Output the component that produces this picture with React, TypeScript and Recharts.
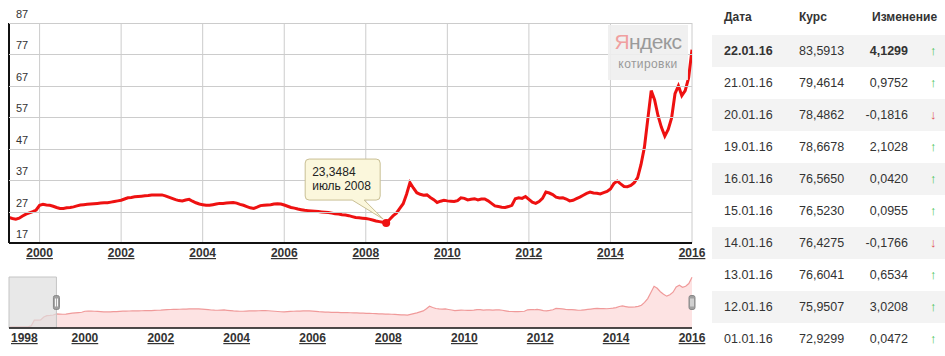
import React from "react";
import {
  LineChart,
  Line,
  AreaChart,
  Area,
  XAxis,
  YAxis,
  CartesianGrid,
  ReferenceDot,
  ReferenceArea,
} from "recharts";

// monthly USD/RUB
const rates1998 = [5.98, 6.05, 6.1, 6.12, 6.15, 6.2, 6.23, 7.5, 15.9, 15.9, 16.4, 20.6];
const rates1999 = [22.6, 22.9, 23.5, 25.1, 24.8, 24.6, 24.9, 25.6, 26.2, 26.6, 27.0, 27.5];
const rates2000 = [29.0, 29.3, 29.1, 29.0, 28.7, 28.3, 28.0, 28.0, 28.2, 28.3, 28.5, 28.8];
const rates2001 = [29.1, 29.2, 29.3, 29.4, 29.5, 29.6, 29.7, 29.8, 29.8, 30.0, 30.2, 30.4];
const rates2002 = [30.6, 31.0, 31.4, 31.5, 31.7, 31.8, 31.9, 32.0, 32.1, 32.3, 32.3, 32.3];
const rates2003 = [32.3, 32.0, 31.6, 31.2, 30.8, 30.5, 30.4, 30.7, 30.9, 30.3, 29.8, 29.4];
const rates2004 = [29.2, 29.0, 29.0, 29.2, 29.4, 29.6, 29.6, 29.7, 29.8, 29.9, 29.7, 29.3];
const rates2005 = [29.0, 28.6, 28.2, 28.0, 28.4, 28.9, 29.0, 29.1, 29.2, 29.4, 29.5, 29.4];
const rates2006 = [29.1, 28.7, 28.3, 28.1, 27.8, 27.6, 27.4, 27.3, 27.2, 27.1, 27.0, 26.9];
const rates2007 = [26.8, 26.7, 26.5, 26.3, 26.2, 26.0, 25.9, 25.7, 25.4, 25.1, 25.0, 24.9];
const rates2008 = [24.8, 24.6, 24.3, 24.0, 23.8, 23.6, 23.3484, 24.5, 25.6, 26.5, 28.0, 29.5];
const rates2009 = [32.5, 36.2, 34.5, 33.0, 32.5, 32.2, 32.3, 31.5, 30.8, 29.9, 30.3, 30.6];
const rates2010 = [30.4, 30.3, 30.2, 30.5, 31.4, 31.2, 30.7, 30.9, 31.1, 30.7, 31.0, 31.0];
const rates2011 = [30.4, 29.6, 28.8, 28.6, 28.4, 28.3, 28.6, 29.0, 31.1, 31.4, 31.2, 31.8];
const rates2012 = [30.9, 30.0, 29.6, 30.2, 31.2, 33.2, 32.9, 32.4, 31.6, 31.3, 31.4, 31.0];
const rates2013 = [30.4, 30.6, 31.1, 31.6, 32.2, 32.8, 33.2, 32.9, 32.8, 32.6, 33.0, 33.4];
const rates2014 = [34.2, 35.9, 36.7, 35.8, 35.0, 34.9, 35.3, 36.2, 37.8, 42.0, 47.5, 56.5];
const rates2015 = [65.5, 62.5, 57.5, 53.8, 51.0, 53.1, 56.8, 64.5, 67.0, 63.9, 65.5, 69.5];
const rates2016 = [78.5];

const years = [1998, 1999, 2000, 2001, 2002, 2003, 2004, 2005, 2006, 2007, 2008, 2009, 2010, 2011, 2012, 2013, 2014, 2015, 2016];
const yearRates = [rates1998, rates1999, rates2000, rates2001, rates2002, rates2003, rates2004, rates2005, rates2006, rates2007, rates2008, rates2009, rates2010, rates2011, rates2012, rates2013, rates2014, rates2015, rates2016];

const mainTicksX = [2000, 2002, 2004, 2006, 2008, 2010, 2012, 2014, 2016];
const navTicksX = [1998, 2000, 2002, 2004, 2006, 2008, 2010, 2012, 2014, 2016];
const ticksY = [17, 27, 37, 47, 57, 67, 77, 87];

const lowPoint = { t: 2008.5, v: 23.3484, label: "июль 2008" };

const tableDates = ["22.01.16", "21.01.16", "20.01.16", "19.01.16", "16.01.16", "15.01.16", "14.01.16", "13.01.16", "12.01.16", "01.01.16"];
const tableRates = ["83,5913", "79,4614", "78,4862", "78,6678", "76,5650", "76,5230", "76,4275", "76,6041", "75,9507", "72,9299"];
const tableChanges = ["4,1299", "0,9752", "-0,1816", "2,1028", "0,0420", "0,0955", "-0,1766", "0,6534", "3,0208", "0,0472"];

const allPoints = years.flatMap((y, i) => yearRates[i].map((v, m) => ({ t: y + m / 12, v })));
const MAIN_START = 1999.25;
const MAIN_END = 2016;
const mainPoints = allPoints.filter((p) => p.t >= MAIN_START - 1e-6);

const FONT = "'Liberation Sans', Arial, sans-serif";
const RED = "#ee1111";
const NAV_MIN = 4.5;
const NAV_MAX = 79;

// main chart layout
const CHART_W = 710;
const CHART_H = 265;
const MARGIN = { top: 23, left: 9, right: 18, bottom: 0 };
const X_AXIS_H = 22;
const PLOT_W = CHART_W - MARGIN.left - MARGIN.right;
const PLOT_H = CHART_H - MARGIN.top - MARGIN.bottom - X_AXIS_H;

const YearTick = (props: any) => {
  const { x, y, payload, index } = props;
  const first = index === 0 && payload.value === 1998;
  return (
    <text
      x={first ? x + 2 : x}
      y={y + 14}
      textAnchor={first ? "start" : "middle"}
      fontSize={12}
      fontWeight="bold"
      fill="#333"
      textDecoration="underline"
      fontFamily={FONT}
    >
      {payload.value}
    </text>
  );
};

// value label + horizontal grid line for one y tick
const valueTick = (value: number, first: boolean) => (props: any) => {
  const { cx, cy } = props;
  if (cx == null || cy == null) return null;
  const gy = Math.round(cy) + 0.5;
  return (
    <g>
      {!first && <line x1={cx} y1={gy} x2={cx + PLOT_W} y2={gy} stroke="#cccccc" strokeWidth={1} />}
      {first && <line x1={cx} y1={cy} x2={cx} y2={cy - PLOT_H} stroke="#111" strokeWidth={2} />}
      <text x={cx + 7} y={cy - 5} fontSize={11} fill="#333" fontFamily={FONT}>
        {value}
      </text>
    </g>
  );
};

const Callout = (props: any) => {
  const { cx, cy } = props;
  if (cx == null || cy == null) return null;
  const L = cx - 81;
  const T = cy - 64;
  const R = cx - 6;
  const B = cy - 23;
  const r = 4;
  const d = `M${L + r},${T} H${R - r} Q${R},${T} ${R},${T + r} V${B - r} Q${R},${B} ${R - r},${B} H${cx - 22} L${cx - 3},${cy - 4} L${cx - 34},${B} H${L + r} Q${L},${B} ${L},${B - r} V${T + r} Q${L},${T} ${L + r},${T} Z`;
  return (
    <g>
      <path d={d} fill="#fbf7dc" stroke="#c9bf94" strokeWidth={1} />
      <text x={L + 7} y={T + 17} fontSize={12} fill="#222" fontFamily={FONT}>
        {lowPoint.v.toFixed(4).replace(".", ",")}
      </text>
      <text x={L + 7} y={T + 31} fontSize={12} fill="#222" fontFamily={FONT}>
        {lowPoint.label}
      </text>
      <circle cx={cx} cy={cy} r={4} fill={RED} />
    </g>
  );
};

const Handle = (props: any) => {
  const { cx, cy } = props;
  if (cx == null || cy == null) return null;
  return (
    <g>
      <rect x={cx - 3} y={cy - 7} width={6} height={14} rx={2} fill="#a0a0a0" stroke="#888" />
      <line x1={cx - 1} y1={cy - 4} x2={cx - 1} y2={cy + 4} stroke="#fff" />
      <line x1={cx + 1} y1={cy - 4} x2={cx + 1} y2={cy + 4} stroke="#fff" />
    </g>
  );
};

const RateTable = () => (
  <div style={{ position: "absolute", left: 712, top: 0, width: 233, height: 356, fontFamily: FONT, color: "#333" }}>
    <div style={{ position: "absolute", top: 0, height: 34, lineHeight: "35px", width: 233, fontSize: 12, fontWeight: "bold" }}>
      <span style={{ position: "absolute", left: 12 }}>Дата</span>
      <span style={{ position: "absolute", left: 87 }}>Курс</span>
      <span style={{ position: "absolute", left: 160 }}>Изменение</span>
    </div>
    {tableDates.map((d, i) => {
      const ch = tableChanges[i];
      const up = !ch.startsWith("-");
      return (
        <div
          key={d}
          style={{
            position: "absolute",
            top: 35 + 32 * i,
            height: 32,
            lineHeight: "32px",
            width: 233,
            fontSize: 12.5,
            background: i % 2 === 0 ? "#f3f3f3" : "transparent",
          }}
        >
          <span style={{ position: "absolute", left: 12, fontWeight: i === 0 ? "bold" : "normal" }}>{d}</span>
          <span style={{ position: "absolute", left: 87 }}>{tableRates[i]}</span>
          <span style={{ position: "absolute", right: 37, fontWeight: i === 0 ? "bold" : "normal" }}>{ch}</span>
          <span style={{ position: "absolute", left: 218, fontSize: 13, fontWeight: "bold", color: up ? "#3fbf4f" : "#e05555" }}>
            {up ? "↑" : "↓"}
          </span>
        </div>
      );
    })}
  </div>
);

const App = () => {
  return (
    <div style={{ position: "absolute", left: 0, top: 0, width: 945, height: 356, background: "#fff", overflow: "hidden" }}>
      <div style={{ position: "absolute", left: 0, top: 0 }}>
        <LineChart width={CHART_W} height={CHART_H} data={mainPoints} margin={MARGIN}>
          <CartesianGrid stroke="#cccccc" horizontal={false} />
          <XAxis
            dataKey="t"
            type="number"
            domain={[MAIN_START, MAIN_END]}
            allowDataOverflow
            ticks={mainTicksX}
            height={X_AXIS_H}
            tickSize={0}
            tickMargin={0}
            tickLine={false}
            axisLine={{ stroke: "#111", strokeWidth: 2 }}
            tick={<YearTick />}
            interval={0}
          />
          <YAxis type="number" domain={[17, 87]} ticks={ticksY} hide />
          {ticksY.map((v, i) => (
            <ReferenceDot key={"lbl" + v} x={MAIN_START} y={v} shape={valueTick(v, i === 0)} />
          ))}
          <Line type="linear" dataKey="v" stroke={RED} strokeWidth={3} dot={false} isAnimationActive={false} />
          <ReferenceDot x={lowPoint.t} y={lowPoint.v} shape={<Callout />} />
        </LineChart>
      </div>

      <div
        style={{
          position: "absolute",
          left: 608,
          top: 25,
          width: 80,
          height: 55,
          background: "rgba(238,238,238,0.9)",
          fontFamily: FONT,
          textAlign: "center",
        }}
      >
        <div style={{ fontSize: 21, letterSpacing: -0.6, lineHeight: "21px", marginTop: 6, color: "#9a9a9a" }}>
          <span style={{ color: "#f0a0a0" }}>Я</span>ндекс
        </div>
        <div style={{ fontSize: 12, letterSpacing: 0.4, color: "#999", marginTop: 5 }}>котировки</div>
      </div>

      <div style={{ position: "absolute", left: 0, top: 260 }}>
        <AreaChart width={CHART_W} height={90} data={allPoints} margin={{ top: 17, left: 9, right: 18, bottom: 0 }}>
          <XAxis
            dataKey="t"
            type="number"
            domain={[1998, MAIN_END]}
            ticks={navTicksX}
            height={22}
            tickSize={0}
            tickMargin={0}
            tickLine={false}
            axisLine={{ stroke: "#111", strokeWidth: 1.5 }}
            tick={<YearTick />}
            interval={0}
          />
          <YAxis type="number" domain={[NAV_MIN, NAV_MAX]} hide />
          <Area
            type="linear"
            dataKey="v"
            stroke="#f09a9a"
            strokeWidth={1.2}
            fill="#fde3e3"
            fillOpacity={1}
            isAnimationActive={false}
          />
          <ReferenceArea x1={1998} x2={MAIN_START} fill="#dedede" fillOpacity={0.7} stroke="#c4c4c4" />
          <ReferenceDot x={MAIN_START} y={(NAV_MIN + NAV_MAX) / 2} shape={<Handle />} />
          <ReferenceDot x={MAIN_END} y={(NAV_MIN + NAV_MAX) / 2} shape={<Handle />} />
        </AreaChart>
      </div>

      <RateTable />
    </div>
  );
};

export default App;
